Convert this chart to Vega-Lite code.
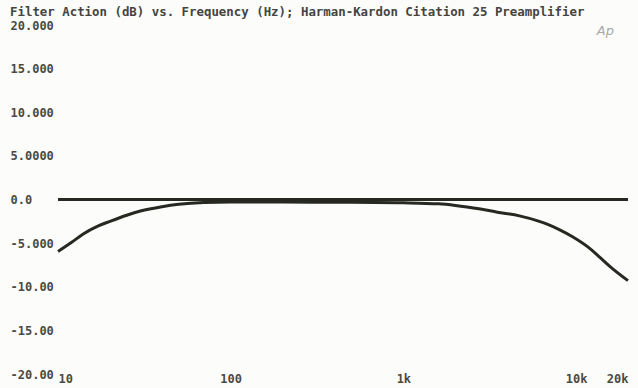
{
  "$schema": "https://vega.github.io/schema/vega-lite/v6.json",
  "width": 570,
  "height": 349,
  "autosize": "none",
  "padding": {"left": 58, "top": 25, "right": 10, "bottom": 14},
  "background": "#fcfcfa",
  "title": {
    "text": "Filter Action (dB) vs. Frequency (Hz); Harman-Kardon Citation 25 Preamplifier",
    "anchor": "start",
    "frame": "group",
    "dx": -48,
    "offset": 1,
    "font": "DejaVu Sans Mono",
    "fontSize": 12.4,
    "fontWeight": "bold",
    "color": "#444440"
  },
  "config": {"view": {"stroke": null}},
  "datasets": {
    "curves": [
      {"series": "flat", "f": 10, "db": 0},
      {"series": "flat", "f": 20000, "db": 0},
      {"series": "response", "f": 10, "db": -5.95},
      {"series": "response", "f": 12, "db": -4.9},
      {"series": "response", "f": 14, "db": -3.95},
      {"series": "response", "f": 17, "db": -3.05},
      {"series": "response", "f": 20, "db": -2.5},
      {"series": "response", "f": 25, "db": -1.8},
      {"series": "response", "f": 30, "db": -1.32},
      {"series": "response", "f": 40, "db": -0.82},
      {"series": "response", "f": 50, "db": -0.55},
      {"series": "response", "f": 70, "db": -0.35},
      {"series": "response", "f": 100, "db": -0.3},
      {"series": "response", "f": 200, "db": -0.3},
      {"series": "response", "f": 500, "db": -0.32},
      {"series": "response", "f": 1000, "db": -0.38},
      {"series": "response", "f": 1600, "db": -0.5},
      {"series": "response", "f": 2000, "db": -0.68},
      {"series": "response", "f": 2800, "db": -1.1},
      {"series": "response", "f": 3500, "db": -1.45},
      {"series": "response", "f": 4700, "db": -1.88},
      {"series": "response", "f": 6000, "db": -2.45},
      {"series": "response", "f": 6800, "db": -2.82},
      {"series": "response", "f": 8000, "db": -3.45},
      {"series": "response", "f": 9600, "db": -4.3},
      {"series": "response", "f": 12000, "db": -5.6},
      {"series": "response", "f": 13700, "db": -6.6},
      {"series": "response", "f": 16000, "db": -7.8},
      {"series": "response", "f": 20000, "db": -9.3}
    ],
    "logo": [{"label": "Ap", "f": 14800, "db": 19.3}]
  },
  "layer": [
    {
      "data": {"name": "curves"},
      "mark": {"type": "line", "interpolate": "monotone", "strokeWidth": 3, "strokeCap": "butt"},
      "encoding": {
        "x": {
          "field": "f", "type": "quantitative",
          "scale": {"type": "log", "domain": [10, 20000], "nice": false},
          "axis": {
            "title": null, "grid": false, "domain": false, "ticks": false,
            "values": [10, 100, 1000, 10000, 20000],
            "labelExpr": "datum.value >= 1000 ? (datum.value / 1000) + 'k' : datum.value + ''",
            "labelFlush": true, "labelPadding": 4, "labelBaseline": "middle",
            "labelFont": "DejaVu Sans Mono", "labelFontSize": 12, "labelFontWeight": "bold",
            "labelColor": "#4a4a42"
          }
        },
        "y": {
          "field": "db", "type": "quantitative",
          "scale": {"domain": [-20, 20], "nice": false, "zero": false},
          "axis": {
            "title": null, "grid": false, "domain": false, "ticks": false,
            "values": [20, 15, 10, 5, 0, -5, -10, -15, -20],
            "labelExpr": "{'20': '20.000', '15': '15.000', '10': '10.000', '5': '5.0000', '0': '0.0', '-5': '-5.000', '-10': '-10.00', '-15': '-15.00', '-20': '-20.00'}[datum.value + '']",
            "labelAlign": "left", "labelPadding": 48, "labelBaseline": "middle",
            "labelFont": "DejaVu Sans Mono", "labelFontSize": 12, "labelFontWeight": "bold",
            "labelColor": "#4a4a42"
          }
        },
        "detail": {"field": "series"},
        "color": {"value": "#262921"}
      }
    },
    {
      "data": {"name": "logo"},
      "mark": {"type": "text", "font": "DejaVu Sans", "fontStyle": "italic", "fontSize": 13, "color": "#a8a8a8"},
      "encoding": {
        "x": {"field": "f", "type": "quantitative"},
        "y": {"field": "db", "type": "quantitative"},
        "text": {"field": "label"}
      }
    }
  ]
}
